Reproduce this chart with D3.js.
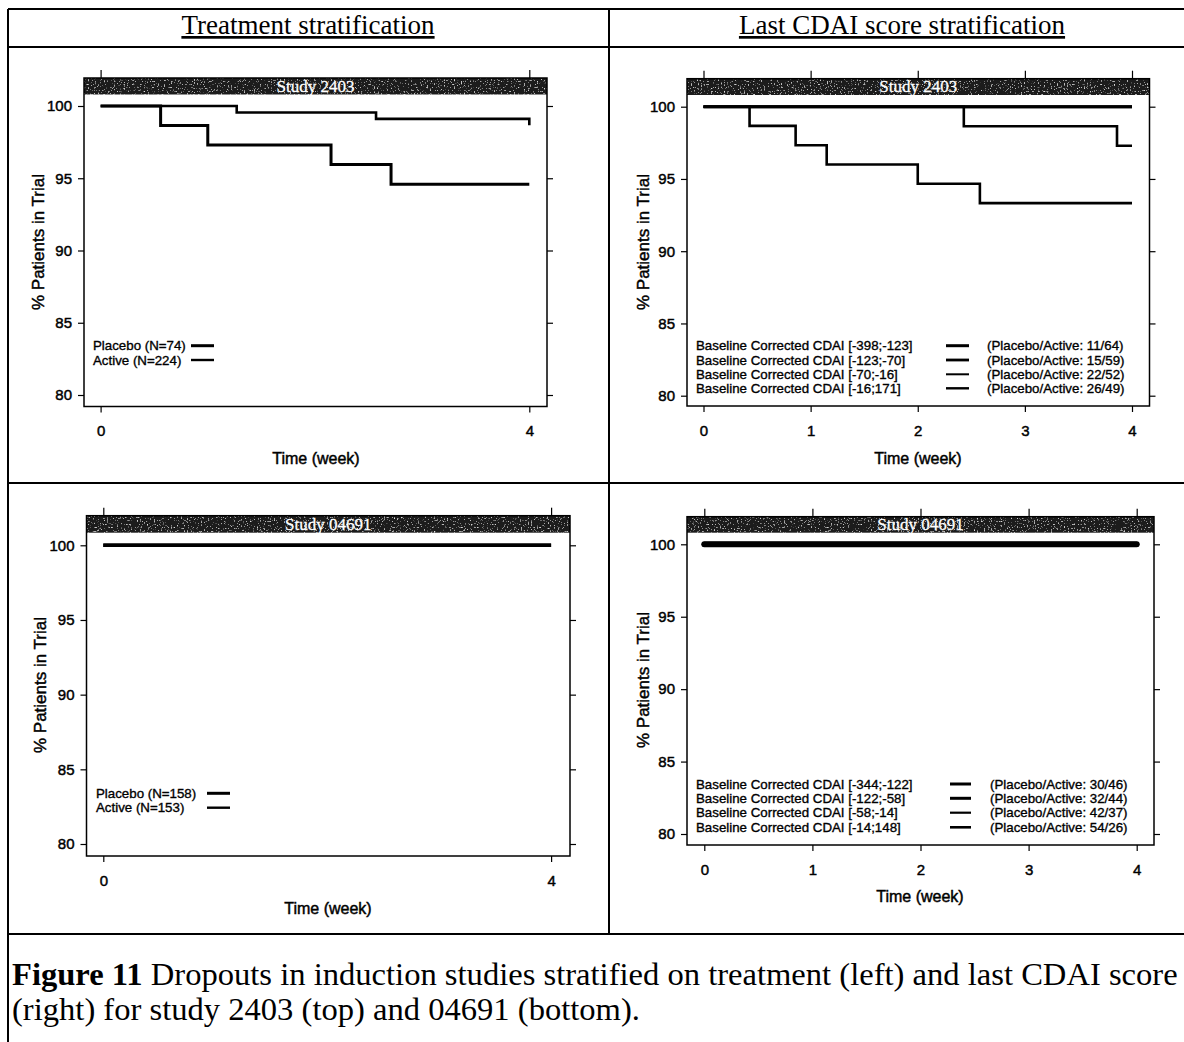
<!DOCTYPE html>
<html>
<head>
<meta charset="utf-8">
<script src="https://cdn.jsdelivr.net/npm/d3@7"></script>
<style>
  body { margin: 0; background: #fff; }
  svg { display: block; }
  .tick text { font-family: "Liberation Sans", Arial, sans-serif; }
</style>
</head>
<body>
<svg id="fig" width="1184" height="1042"></svg>
<script>
// ---- axis ticks ----
const weekTicksCoarse = [0, 4];
const weekTicksFine = [0, 1, 2, 3, 4];
const pctTicks = [80, 85, 90, 95, 100];

// ---- Study 2403, by treatment (step curves: week of dropout, % still in trial) ----
const trtLabels2403 = ["Placebo (N=74)", "Active (N=224)"];
const placeboWeeks2403 = [0, 0.56, 1.00, 2.15, 2.71, 4];
const placeboPct2403   = [100, 98.65, 97.30, 95.95, 94.59, 94.59];
const activeWeeks2403  = [0, 1.27, 2.57, 4];
const activePct2403    = [100, 99.55, 99.11, 98.66];

// ---- Study 2403, by last CDAI score group ----
const cdaiLabels2403 = [
  "Baseline Corrected CDAI [-398;-123]",
  "Baseline Corrected CDAI [-123;-70]",
  "Baseline Corrected CDAI [-70;-16]",
  "Baseline Corrected CDAI [-16;171]"
];
const cdaiCounts2403 = [
  "(Placebo/Active: 11/64)",
  "(Placebo/Active: 15/59)",
  "(Placebo/Active: 22/52)",
  "(Placebo/Active: 26/49)"
];
const g1Weeks2403 = [0, 4];
const g1Pct2403   = [100, 100];
const g2Weeks2403 = [0, 4];
const g2Pct2403   = [100, 100];
const g3Weeks2403 = [0, 2.43, 3.86, 4];
const g3Pct2403   = [100, 98.65, 97.30, 97.30];
const g4Weeks2403 = [0, 0.43, 0.86, 1.15, 2.00, 2.58, 4];
const g4Pct2403   = [100, 98.67, 97.33, 96.00, 94.67, 93.33, 93.33];

// ---- Study 04691, by treatment ----
const trtLabels04691 = ["Placebo (N=158)", "Active (N=153)"];
const placeboWeeks04691 = [0, 4];
const placeboPct04691   = [100, 100];
const activeWeeks04691  = [0, 4];
const activePct04691    = [100, 100];

// ---- Study 04691, by last CDAI score group ----
const cdaiLabels04691 = [
  "Baseline Corrected CDAI [-344;-122]",
  "Baseline Corrected CDAI [-122;-58]",
  "Baseline Corrected CDAI [-58;-14]",
  "Baseline Corrected CDAI [-14;148]"
];
const cdaiCounts04691 = [
  "(Placebo/Active: 30/46)",
  "(Placebo/Active: 32/44)",
  "(Placebo/Active: 42/37)",
  "(Placebo/Active: 54/26)"
];
const g1Weeks04691 = [0, 4];
const g1Pct04691   = [100, 100];
const g2Weeks04691 = [0, 4];
const g2Pct04691   = [100, 100];
const g3Weeks04691 = [0, 4];
const g3Pct04691   = [100, 100];
const g4Weeks04691 = [0, 4];
const g4Pct04691   = [100, 100];

const zipSeries = (w, p) => w.map((t, i) => [t, p[i]]);

const SANS = '"Liberation Sans", Arial, sans-serif';
const SERIF = '"Liberation Serif", "Times New Roman", serif';
const INK = "#000";
const HEAVY = 0.45; // slight outline so the sans labels read as heavy as printed type

const svg = d3.select("#fig");
svg.append("rect").attr("width", 1184).attr("height", 1042).attr("fill", "#fff");

// speckled texture for the strip headers
const defs = svg.append("defs");
const grain = defs.append("filter").attr("id", "grain")
  .attr("x", 0).attr("y", 0).attr("width", 1).attr("height", 1);
grain.append("feTurbulence").attr("type", "fractalNoise")
  .attr("baseFrequency", 0.7).attr("numOctaves", 1).attr("seed", 4).attr("result", "noise");
grain.append("feColorMatrix").attr("in", "noise").attr("type", "matrix")
  .attr("values", "0 0 0 0 0.75  0 0 0 0 0.75  0 0 0 0 0.75  5 0 0 0 -3.0")
  .attr("result", "spots");
const merge = grain.append("feMerge");
merge.append("feMergeNode").attr("in", "SourceGraphic");
merge.append("feMergeNode").attr("in", "spots");

// ---- table frame ----
const frame = svg.append("g").attr("stroke", INK).attr("stroke-width", 2);
[[8, 9, 1184, 9], [8, 47, 1184, 47], [8, 483, 1184, 483], [8, 934, 1184, 934],
 [8, 9, 8, 1042], [609, 9, 609, 934]].forEach(([x1, y1, x2, y2]) =>
  frame.append("line").attr("x1", x1).attr("y1", y1).attr("x2", x2).attr("y2", y2));

// column headings
[["Treatment stratification", 308], ["Last CDAI score stratification", 902]].forEach(([t, cx]) =>
  svg.append("text").attr("x", cx).attr("y", 34).attr("text-anchor", "middle")
    .attr("font-family", SERIF).attr("font-size", 27).attr("fill", INK)
    .style("text-decoration", "underline").text(t));

// caption
const cap = svg.append("g").attr("font-family", SERIF).attr("font-size", 32.6).attr("fill", INK);
const c1 = cap.append("text").attr("x", 12).attr("y", 985);
c1.append("tspan").attr("font-weight", "bold").text("Figure 11");
c1.append("tspan").text(" Dropouts in induction studies stratified on treatment (left) and last CDAI score");
cap.append("text").attr("x", 12).attr("y", 1020)
  .text("(right) for study 2403 (top) and 04691 (bottom).");

// ---- panels ----
const panels = [
  {
    study: "Study 2403", ticks: weekTicksCoarse,
    box: { left: 84, right: 547, top: 78, strip: 94.5, bottom: 406.5 },
    x0: 100.6, x4: 529.3, y100: 106, y80: 395,
    yTitleX: 38, yTitleY: 242, xTitleX: 316, xTitleY: 458,
    series: [
      { pts: zipSeries(placeboWeeks2403, placeboPct2403), w: 3 },
      { pts: zipSeries(activeWeeks2403, activePct2403), w: 2.6 }
    ],
    legend: { labels: trtLabels2403, textX: 93, rowY: [345.7, 360], lineX: [191, 214], widths: [3, 2.4] }
  },
  {
    study: "Study 2403", ticks: weekTicksFine,
    box: { left: 687, right: 1149.5, top: 78.7, strip: 95, bottom: 406 },
    x0: 703.5, x4: 1132, y100: 106.7, y80: 395.7,
    yTitleX: 643, yTitleY: 242, xTitleX: 918, xTitleY: 458,
    series: [
      { pts: zipSeries(g1Weeks2403, g1Pct2403), w: 3 },
      { pts: zipSeries(g2Weeks2403, g2Pct2403), w: 3 },
      { pts: zipSeries(g3Weeks2403, g3Pct2403), w: 2.6 },
      { pts: zipSeries(g4Weeks2403, g4Pct2403), w: 2.6 }
    ],
    legend: { labels: cdaiLabels2403, counts: cdaiCounts2403, textX: 696, countX: 987,
              rowY: [345.7, 360, 374.3, 388.3], lineX: [946, 969], widths: [3, 2.8, 2, 2.4] }
  },
  {
    study: "Study 04691", ticks: weekTicksCoarse,
    box: { left: 86.5, right: 570, top: 515.7, strip: 532.7, bottom: 856 },
    x0: 103.3, x4: 551.1, y100: 545.3, y80: 844,
    yTitleX: 40, yTitleY: 685, xTitleX: 328, xTitleY: 908,
    series: [
      { pts: zipSeries(placeboWeeks04691, placeboPct04691), w: 3.6 },
      { pts: zipSeries(activeWeeks04691, activePct04691), w: 3.6 }
    ],
    legend: { labels: trtLabels04691, textX: 96, rowY: [793.3, 807.7], lineX: [207, 230], widths: [3, 2.4] }
  },
  {
    study: "Study 04691", ticks: weekTicksFine,
    box: { left: 687, right: 1154, top: 516.7, strip: 532.7, bottom: 845 },
    x0: 704.3, x4: 1136.7, y100: 544.3, y80: 834,
    yTitleX: 643, yTitleY: 680, xTitleX: 920, xTitleY: 896,
    series: [
      { pts: zipSeries(g1Weeks04691, g1Pct04691), w: 6, cap: "round" },
      { pts: zipSeries(g2Weeks04691, g2Pct04691), w: 5, cap: "round" },
      { pts: zipSeries(g3Weeks04691, g3Pct04691), w: 4, cap: "round" },
      { pts: zipSeries(g4Weeks04691, g4Pct04691), w: 3, cap: "round" }
    ],
    legend: { labels: cdaiLabels04691, counts: cdaiCounts04691, textX: 696, countX: 990,
              rowY: [784, 798.3, 812.7, 827.3], lineX: [950, 971], widths: [3, 3, 2.2, 2.6] }
  }
];

panels.forEach(p => {
  const g = svg.append("g");
  const b = p.box;
  const x = d3.scaleLinear().domain([0, 4]).range([p.x0, p.x4]);
  const y = d3.scaleLinear().domain([80, 100]).range([p.y80, p.y100]);

  // strip header
  g.append("rect").attr("x", b.left).attr("y", b.top)
    .attr("width", b.right - b.left).attr("height", b.strip - b.top)
    .attr("fill", "#1e1e1e").attr("filter", "url(#grain)");
  g.append("text").attr("x", (b.left + b.right) / 2).attr("y", b.strip - 3)
    .attr("text-anchor", "middle").attr("font-family", SERIF).attr("font-size", 17)
    .attr("fill", "#fff").attr("stroke", "#fff").attr("stroke-width", 0.3)
    .text(p.study);

  // axes with outward ticks on all four sides
  const styleAxis = sel => {
    sel.select(".domain").remove();
    sel.selectAll(".tick line").attr("stroke", INK).attr("stroke-width", 1.2);
    sel.selectAll(".tick text").attr("fill", INK).attr("font-size", 15)
      .attr("stroke", INK).attr("stroke-width", HEAVY);
  };
  const fmt = d3.format("d");
  g.append("g").attr("transform", `translate(${b.left},0)`)
    .call(d3.axisLeft(y).tickValues(pctTicks).tickFormat(fmt).tickSize(6).tickPadding(6)).call(styleAxis);
  g.append("g").attr("transform", `translate(${b.right},0)`)
    .call(d3.axisRight(y).tickValues(pctTicks).tickSize(6).tickFormat("")).call(styleAxis);
  g.append("g").attr("transform", `translate(0,${b.bottom})`)
    .call(d3.axisBottom(x).tickValues(p.ticks).tickFormat(fmt).tickSize(6).tickPadding(13)).call(styleAxis);
  g.append("g").attr("transform", `translate(0,${b.top})`)
    .call(d3.axisTop(x).tickValues(p.ticks).tickSize(8).tickFormat("")).call(styleAxis);

  // panel box
  g.append("rect").attr("x", b.left).attr("y", b.top)
    .attr("width", b.right - b.left).attr("height", b.bottom - b.top)
    .attr("fill", "none").attr("stroke", INK).attr("stroke-width", 1.5);

  // axis titles
  g.append("text").attr("x", p.xTitleX).attr("y", p.xTitleY).attr("dy", "0.35em")
    .attr("text-anchor", "middle").attr("font-family", SANS).attr("font-size", 16)
    .attr("fill", INK).attr("stroke", INK).attr("stroke-width", HEAVY).text("Time (week)");
  g.append("text").attr("transform", `translate(${p.yTitleX},${p.yTitleY}) rotate(-90)`)
    .attr("dy", "0.35em").attr("text-anchor", "middle").attr("font-family", SANS)
    .attr("font-size", 17).attr("fill", INK).attr("stroke", INK).attr("stroke-width", HEAVY)
    .text("% Patients in Trial");

  // step curves
  const line = d3.line().x(d => x(d[0])).y(d => y(d[1])).curve(d3.curveStepAfter);
  p.series.forEach(s => {
    g.append("path").attr("d", line(s.pts)).attr("fill", "none")
      .attr("stroke", INK).attr("stroke-width", s.w)
      .attr("stroke-linecap", s.cap || "butt").attr("stroke-linejoin", "miter");
  });

  // legend
  const L = p.legend;
  const lg = g.append("g").attr("font-family", SANS).attr("font-size", 13.3)
    .attr("fill", INK).attr("stroke", INK).attr("stroke-width", 0.35);
  L.labels.forEach((lab, i) => {
    lg.append("text").attr("x", L.textX).attr("y", L.rowY[i]).attr("dy", "0.35em").text(lab);
    lg.append("line").attr("x1", L.lineX[0]).attr("x2", L.lineX[1])
      .attr("y1", L.rowY[i]).attr("y2", L.rowY[i])
      .attr("stroke", INK).attr("stroke-width", L.widths[i]);
    if (L.counts) {
      lg.append("text").attr("x", L.countX).attr("y", L.rowY[i]).attr("dy", "0.35em").text(L.counts[i]);
    }
  });
});
</script>
</body>
</html>
